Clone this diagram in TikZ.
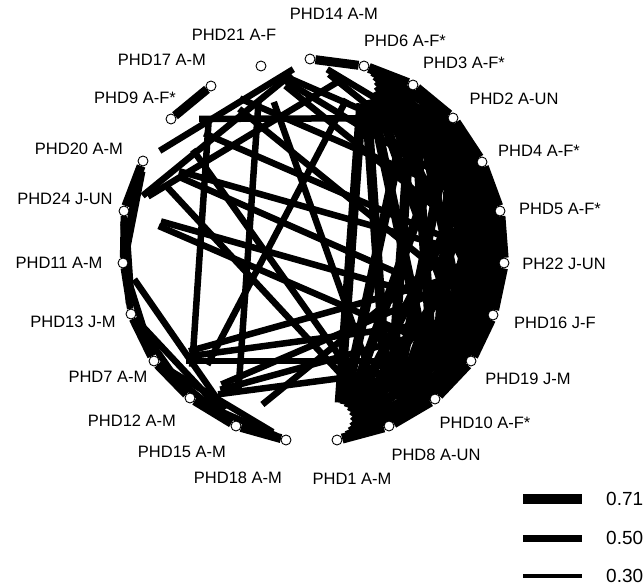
\documentclass[tikz,border=0pt]{standalone}
\usepackage{fontspec}
\setmainfont{Liberation Sans}
\usetikzlibrary{calc}
\begin{document}
\begin{tikzpicture}[x=1pt,y=-1pt,
  edge/.style={line width=6.5pt},
  heavyedge/.style={line width=9pt},
  massedge/.style={line width=10pt},
  pt/.style={circle,draw,fill=white,line width=0.9pt,inner sep=0pt,minimum size=10pt},
  lab/.style={font=\fontsize{16.5}{18}\selectfont,inner sep=0pt},
  legtext/.style={font=\fontsize{19}{20}\selectfont,inner sep=0pt,anchor=west},
  legbar/.style={line cap=butt}]
\useasboundingbox (0,0) rectangle (643,588);
\fill[white] (0,0) rectangle (643,588);
% node positions
\foreach \n/\x/\y in {14/310/59, 6/364/66, 3/413/85, 2/453/118, 4/482/162,
  5/500/211, 22/504/263, 16/493/315, 19/471/361, 10/435/399, 8/389/426,
  1/337/440, 18/286/440, 15/236/426, 12/190/398, 7/154/361, 13/131/314,
  11/123/263, 24/124/211, 20/143/161, 9/171/119, 17/211/86, 21/261/66}
  \coordinate (p\n) at (\x,\y);
% dense right cluster: all pairs
\foreach \a [count=\i] in {6,3,2,4,5,22,16,19,10,8,1}{
  \foreach \b [count=\j] in {6,3,2,4,5,22,16,19,10,8,1}{
    \ifnum\j>\i
      \draw[massedge] ($(p\a)!0.1!(p\b)$) -- ($(p\a)!0.9!(p\b)$);
    \fi
  }
}
% other edges
\foreach \a/\b in {14/4, 14/5, 24/14, 20/14, 24/6, 9/2, 9/22, 9/8,
  17/5, 17/16, 17/12, 21/15, 21/4, 21/5, 21/22, 21/8,
  20/16, 20/22, 20/8, 24/16, 24/19, 6/12,
  7/16, 7/19, 7/22, 12/16, 12/19, 12/22, 5/15,
  24/11, 11/13, 11/7, 11/15, 13/12, 7/15, 7/18, 12/18, 13/15}
  \draw[edge] ($(p\a)!0.1!(p\b)$) -- ($(p\a)!0.9!(p\b)$);
\foreach \a/\b in {9/17, 14/6, 20/24, 20/11, 24/13, 13/7, 7/12, 12/15, 15/18}
  \draw[heavyedge] ($(p\a)!0.1!(p\b)$) -- ($(p\a)!0.9!(p\b)$);
% node circles
\foreach \n in {14,6,3,2,4,5,22,16,19,10,8,1,18,15,12,7,13,11,24,20,9,17,21}
  \node[pt] (v\n) at (p\n) {};
% labels
\node[lab] (l14) at (334,14) {PHD14 A-M};
\node[lab] (l6)  at (405,41) {PHD6 A-F*};
\node[lab] (l3)  at (464,63) {PHD3 A-F*};
\node[lab] (l2)  at (514,99) {PHD2 A-UN};
\node[lab] (l4)  at (539,151) {PHD4 A-F*};
\node[lab] (l5)  at (560,209) {PHD5 A-F*};
\node[lab] (l22) at (564,264) {PH22 J-UN};
\node[lab] (l16) at (555,323) {PHD16 J-F};
\node[lab] (l19) at (528,379) {PHD19 J-M};
\node[lab] (l10) at (485,423) {PHD10 A-F*};
\node[lab] (l8)  at (436,455) {PHD8 A-UN};
\node[lab] (l1)  at (352,479) {PHD1 A-M};
\node[lab] (l18) at (238,478) {PHD18 A-M};
\node[lab] (l15) at (182,452) {PHD15 A-M};
\node[lab] (l12) at (132,421) {PHD12 A-M};
\node[lab] (l7)  at (108,377) {PHD7 A-M};
\node[lab] (l13) at (73,322) {PHD13 J-M};
\node[lab] (l11) at (59,263) {PHD11 A-M};
\node[lab] (l24) at (65,199) {PHD24 J-UN};
\node[lab] (l20) at (79,149) {PHD20 A-M};
\node[lab] (l9)  at (135,98) {PHD9 A-F*};
\node[lab] (l17) at (162,60) {PHD17 A-M};
\node[lab] (l21) at (234,35) {PHD21 A-F};
% legend
\draw[legbar,line width=10pt] (523,499) -- (582,499);
\draw[legbar,line width=7pt] (523,538) -- (582,538);
\draw[legbar,line width=4.5pt] (523,576) -- (582,576);
\node[legtext] (t71) at (606,499) {0.71};
\node[legtext] (t50) at (606,538) {0.50};
\node[legtext] (t30) at (606,576) {0.30};
\end{tikzpicture}
\end{document}
